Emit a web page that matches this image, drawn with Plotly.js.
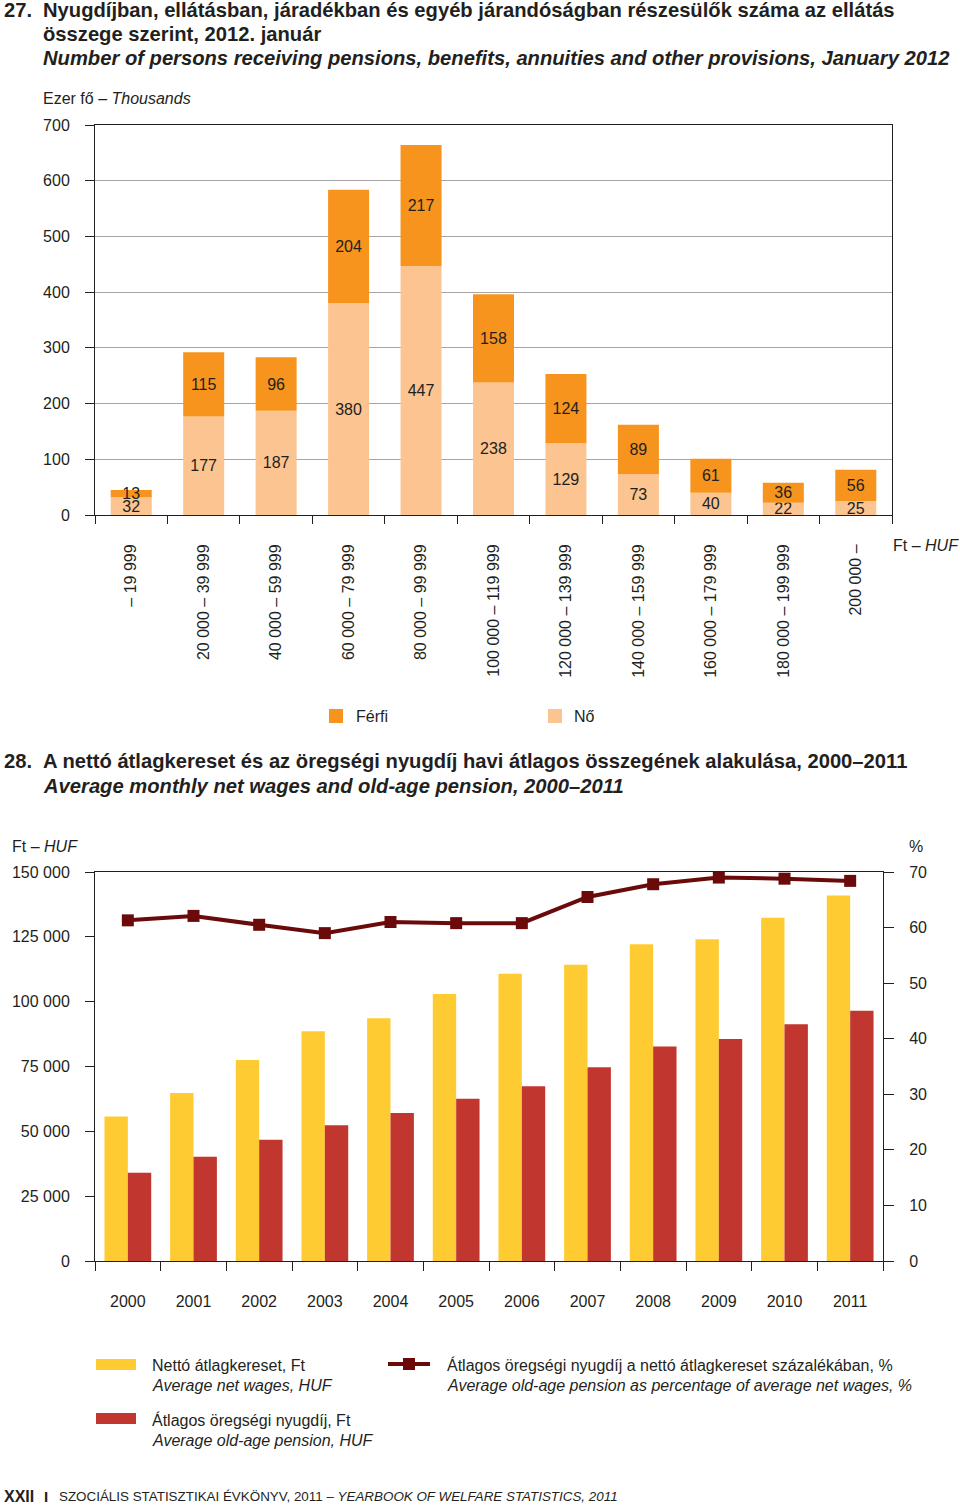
<!DOCTYPE html>
<html>
<head>
<meta charset="utf-8">
<script src="https://cdn.plot.ly/plotly-3.0.1.min.js"></script>
<style>html,body{margin:0;padding:0;background:#fff;}#chart{width:960px;height:1508px;}</style>
</head>
<body>
<div id="chart"></div>
<script>
// ---- Chart 27 data ----
const incomeBands = ['– 19 999','20 000 – 39 999','40 000 – 59 999','60 000 – 79 999','80 000 – 99 999','100 000 – 119 999','120 000 – 139 999','140 000 – 159 999','160 000 – 179 999','180 000 – 199 999','200 000 –'];
const women = [32, 177, 187, 380, 447, 238, 129, 73, 40, 22, 25];
const men = [13, 115, 96, 204, 217, 158, 124, 89, 61, 36, 56];
const yTicks1 = [0, 100, 200, 300, 400, 500, 600, 700];

// ---- Chart 28 data ----
const years = ['2000','2001','2002','2003','2004','2005','2006','2007','2008','2009','2010','2011'];
const netWages = [55700, 64800, 77500, 88600, 93600, 103000, 110800, 114200, 122100, 124100, 132400, 140900];
const oldAgePension = [34000, 40200, 46800, 52300, 57100, 62600, 67400, 74700, 82700, 85600, 91300, 96500];
const pensionPct = [61.3, 62.1, 60.5, 59.0, 61.0, 60.8, 60.8, 65.5, 67.8, 69.0, 68.8, 68.4];

const W = 960, H = 1508;
const fx = p => p / W;
const fy = p => 1 - p / H;

const TXT = '#231f20';
const ARIAL = 'Liberation Sans, Arial, sans-serif';

const C_MEN = '#f7941d', C_WOMEN = '#fbc490';
const C_WAGE = '#ffcb32', C_PENS = '#c1362f', C_LINE = '#6b0a0a';

const traces = [
  {type:'bar', x: incomeBands, y: women, xaxis:'x', yaxis:'y', name:'Nő',
   marker:{color:C_WOMEN}, width:0.566, text: women.map(String), textposition:'inside',
   insidetextanchor:'middle', textangle:0, constraintext:'none',
   textfont:{family:ARIAL, size:16, color:TXT}, showlegend:false, hoverinfo:'skip'},
  {type:'bar', x: incomeBands, y: men, base: women, xaxis:'x', yaxis:'y', name:'Férfi',
   marker:{color:C_MEN}, width:0.566, text: men.map(String), textposition:'inside',
   insidetextanchor:'middle', textangle:0, constraintext:'none',
   textfont:{family:ARIAL, size:16, color:TXT}, showlegend:false, hoverinfo:'skip'},
  {type:'bar', x: years, y: netWages, xaxis:'x2', yaxis:'y2', name:'Nettó átlagkereset',
   marker:{color:C_WAGE}, width:0.356, offset:-0.356, showlegend:false, hoverinfo:'skip'},
  {type:'bar', x: years, y: oldAgePension, xaxis:'x2', yaxis:'y2', name:'Átlagos öregségi nyugdíj',
   marker:{color:C_PENS}, width:0.356, offset:0, showlegend:false, hoverinfo:'skip'},
  {type:'scatter', mode:'lines+markers', x: years, y: pensionPct, xaxis:'x2', yaxis:'y3',
   line:{color:C_LINE, width:4}, marker:{symbol:'square', size:12, color:C_LINE},
   showlegend:false, hoverinfo:'skip'}
];

function ann(text, x, y, size, extra) {
  return Object.assign({text:text, xref:'paper', yref:'paper', x:fx(x - 2), y:fy(y),
    xanchor:'left', yanchor:'middle', showarrow:false,
    font:{family:ARIAL, size:size, color:TXT}}, extra || {});
}

const annotations = [
  ann('<b>27.</b>', 4, 10, 20.2),
  ann('<b>Nyugdíjban, ellátásban, járadékban és egyéb járandóságban részesülők száma az ellátás</b>', 43, 10, 20.2),
  ann('<b>összege szerint, 2012. január</b>', 43, 34, 20.2),
  ann('<b><i>Number of persons receiving pensions, benefits, annuities and other provisions, January 2012</i></b>', 43, 58, 20.2),
  ann('Ezer fő – <i>Thousands</i>', 43, 98, 16),
  ann('Ft – <i>HUF</i>', 893, 546, 16),
  ann('Férfi', 356, 716, 16),
  ann('Nő', 574, 716, 16),
  ann('<b>28.</b>', 4, 761, 20.2),
  ann('<b>A nettó átlagkereset és az öregségi nyugdíj havi átlagos összegének alakulása, 2000–2011</b>', 43, 761, 20.2),
  ann('<b><i>Average monthly net wages and old-age pension, 2000–2011</i></b>', 43, 786, 20.2),
  ann('Ft – <i>HUF</i>', 12, 846, 16),
  ann('%', 909, 846, 16),
  ann('Nettó átlagkereset, Ft', 152, 1365, 16),
  ann('<i>Average net wages, HUF</i>', 152, 1385, 16),
  ann('Átlagos öregségi nyugdíj a nettó átlagkereset százalékában, %', 447, 1365, 16),
  ann('<i>Average old-age pension as percentage of average net wages, %</i>', 447, 1385, 16),
  ann('Átlagos öregségi nyugdíj, Ft', 152, 1420, 16),
  ann('<i>Average old-age pension, HUF</i>', 152, 1440, 16),
  ann('<b>XXII</b>', 4, 1496, 16),
  ann('<b>I</b>', 44, 1496, 15),
  ann('SZOCIÁLIS STATISZTIKAI ÉVKÖNYV, 2011 – <i>YEARBOOK OF WELFARE STATISTICS, 2011</i>', 59, 1496, 13.4)
];

function rect(x0, y0, x1, y1, color) {
  return {type:'rect', xref:'paper', yref:'paper', x0:fx(x0), x1:fx(x1), y0:fy(y1), y1:fy(y0),
    fillcolor:color, line:{width:0}};
}
const shapes = [
  rect(329, 709, 343, 723, C_MEN),
  rect(548, 709, 562, 723, C_WOMEN),
  rect(96, 1359, 136, 1370, C_WAGE),
  rect(96, 1413, 136, 1424, C_PENS),
  {type:'line', xref:'paper', yref:'paper', x0:fx(388), x1:fx(430), y0:fy(1364), y1:fy(1364),
   line:{color:C_LINE, width:4}},
  rect(403, 1358, 415, 1370, C_LINE)
];

const axisCommon = {showline:true, linecolor:TXT, linewidth:1, ticks:'outside', tickcolor:TXT,
  tickwidth:1, zeroline:false, fixedrange:true};

const layout = {
  width:W, height:H, autosize:false,
  margin:{l:0, r:0, t:0, b:0, pad:0},
  paper_bgcolor:'#fff', plot_bgcolor:'#fff',
  barmode:'overlay', separators:', ',
  showlegend:false,
  font:{family:ARIAL, size:16, color:TXT},
  xaxis: Object.assign({}, axisCommon, {domain:[fx(95), fx(892)], anchor:'y', type:'category',
    range:[-0.5, incomeBands.length - 0.5],
    mirror:true, tickson:'boundaries', ticklen:8, tickangle:-90, showgrid:false,
    tickfont:{family:ARIAL, size:16, color:TXT}, ticklabelstandoff:22}),
  yaxis: Object.assign({}, axisCommon, {domain:[fy(515), fy(125)], anchor:'x', range:[0,700],
    tickvals:yTicks1, mirror:true, ticklen:9, showgrid:true, gridcolor:'#a6a6a6', gridwidth:1,
    tickfont:{family:ARIAL, size:16, color:TXT}, ticklabelstandoff:12}),
  xaxis2: Object.assign({}, axisCommon, {domain:[fx(95), fx(883)], anchor:'y2', type:'category',
    range:[-0.5, years.length - 0.5],
    mirror:true, tickson:'boundaries', ticklen:9, showgrid:false,
    tickfont:{family:ARIAL, size:16, color:TXT}, ticklabelstandoff:26}),
  yaxis2: Object.assign({}, axisCommon, {domain:[fy(1261), fy(872)], anchor:'x2', range:[0,150000],
    dtick:25000, tickformat:',d', ticklen:9, showgrid:false,
    tickfont:{family:ARIAL, size:16, color:TXT}, ticklabelstandoff:12}),
  yaxis3: Object.assign({}, axisCommon, {overlaying:'y2', side:'right', anchor:'x2', range:[0,70],
    dtick:10, ticklen:10, showgrid:false,
    tickfont:{family:ARIAL, size:16, color:TXT}, ticklabelstandoff:12}),
  annotations: annotations,
  shapes: shapes
};

Plotly.newPlot('chart', traces, layout, {staticPlot:true, displayModeBar:false});
</script>
</body>
</html>
